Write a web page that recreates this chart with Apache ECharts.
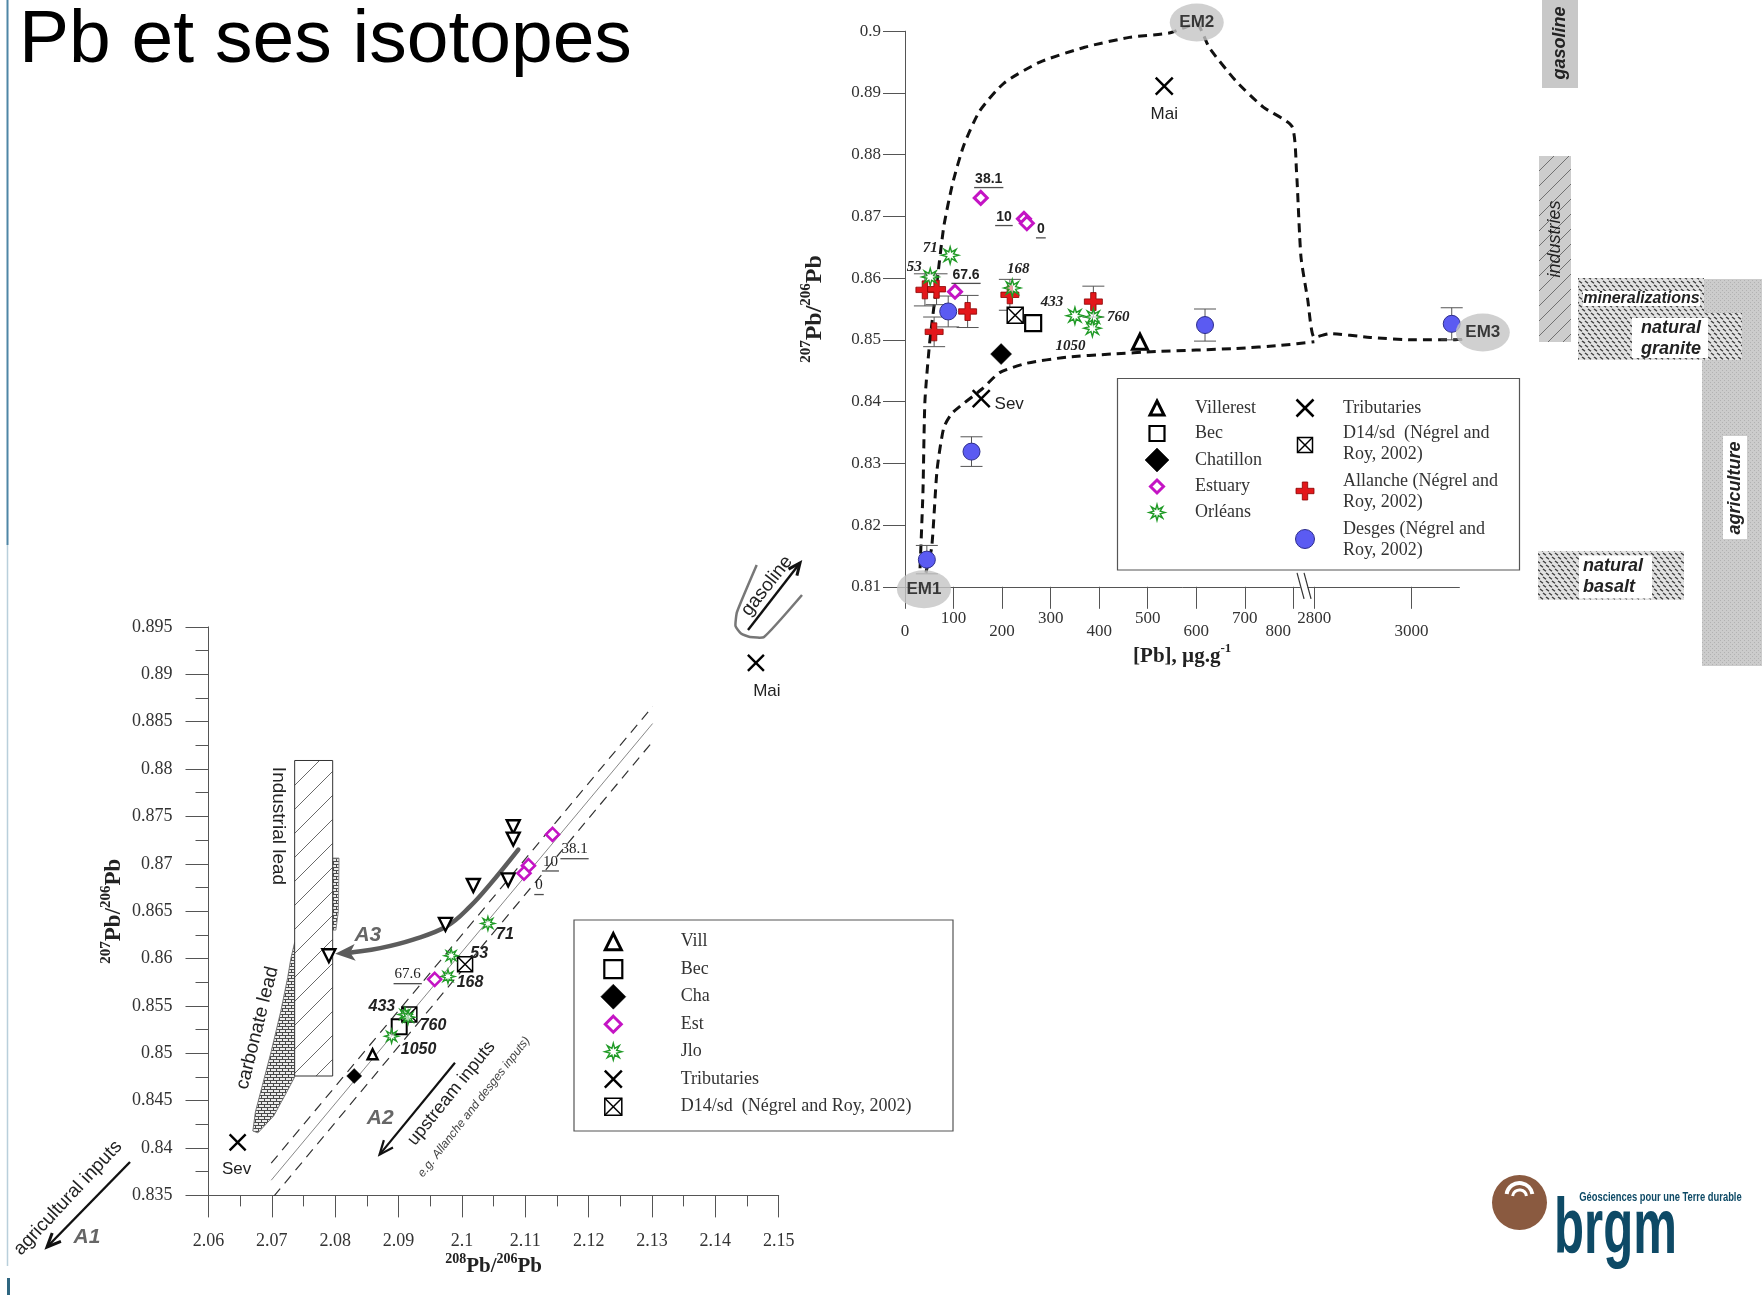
<!DOCTYPE html>
<html>
<head>
<meta charset="utf-8">
<title>Pb et ses isotopes</title>
<script src="https://cdn.jsdelivr.net/npm/echarts@6/dist/echarts.min.js"></script>
<style>
  html, body { margin: 0; padding: 0; background: #fff; }
  #chart { width: 1762px; height: 1295px; }
</style>
</head>
<body>
<div id="chart"></div>
<script>
// ================= Panel 1 : [Pb] (µg/g) vs 207Pb/206Pb =================
const pbTickValues = [0, 100, 200, 300, 400, 500, 600, 700, 800, 2800, 3000];
const pbTickLabelsUpper = [100, 300, 500, 700, 2800];
const pbTickLabelsLower = [0, 200, 400, 600, 800, 3000];

const villerest = [[484, 0.8497]];
const bec = [[264, 0.8527]];
const chatillon = [[198, 0.8477]];
const estuary = [[156, 0.8730, '38.1'], [245, 0.8696, '10'], [251, 0.8689, '0'], [103, 0.8578, '67.6']];
const orleans = [[93, 0.8637, '71'], [52, 0.8602, '53'], [221, 0.8584, '168'], [350, 0.8539, '433'], [388, 0.8537, '760'], [386, 0.8519, '1050']];
const tributaries = [[534, 0.8911, 'Mai'], [157, 0.8405, 'Sev']];
const d14sd = [[227, 0.8540]];
const allanche = [[41, 0.8581], [65, 0.8582], [60, 0.8513], [129, 0.8546], [216, 0.8573], [388, 0.8562]];
const allancheErr = [0.0026, 0.0025, 0.0024, 0.0026, 0.0025, 0.0025];
const desges = [[45, 0.8144], [89, 0.8546], [137, 0.8319], [618, 0.8524], [3083, 0.8526]];
const desgesErr = [0.0023, 0.0025, 0.0024, 0.0026, 0.0026];
const endMembers = [[39, 0.8096, 'EM1'], [601, 0.9014, 'EM2'], [3147, 0.8512, 'EM3']];

// mixing envelope EM1 - EM2 - EM3 and EM1 - EM3
const envelopeOuter = [
  [31, 0.8130], [37, 0.8254], [41, 0.8400], [51, 0.8497], [66, 0.8594], [80, 0.8684], [98, 0.8753],
  [121, 0.8815], [154, 0.8871], [204, 0.8916], [278, 0.8950], [370, 0.8974], [462, 0.8990],
  [544, 0.8997], [600, 0.9012], [627, 0.8973], [682, 0.8919], [738, 0.8877], [797, 0.8846],
  [1096, 0.8774], [1522, 0.8635], [2161, 0.8566], [2800, 0.8504], [2832, 0.8510], [2915, 0.8504],
  [3007, 0.8500], [3090, 0.8500], [3147, 0.8505]
];
const envelopeInner = [
  [43, 0.8123], [55, 0.8164], [66, 0.8289], [80, 0.8358], [98, 0.8382], [158, 0.8420], [195, 0.8447],
  [250, 0.8462], [333, 0.8472], [425, 0.8477], [517, 0.8481], [682, 0.8486], [774, 0.8491], [2800, 0.8497]
];

// ================= Panel 2 : 208Pb/206Pb vs 207Pb/206Pb =================
const vill2 = [[2.0859, 0.8499]];
const villInverted2 = [[2.1081, 0.8739], [2.1081, 0.8726], [2.1018, 0.8677], [2.1073, 0.8683], [2.0974, 0.8636], [2.0790, 0.8603]];
const bec2 = [[2.0901, 0.8528]];
const cha2 = [[2.0830, 0.8476]];
const est2 = [[2.1143, 0.8731, '38.1'], [2.1105, 0.8698, '10'], [2.1098, 0.8690, '0'], [2.0957, 0.8578, '67.6']];
const jlo2 = [[2.1041, 0.8637, '71'], [2.0983, 0.8603, '53'], [2.0978, 0.8581, '168'], [2.0910, 0.8541, '433'], [2.0915, 0.8538, '760'], [2.0889, 0.8518, '1050']];
const trib2 = [[2.0646, 0.8406, 'Sev'], [2.1464, 0.8912, 'Mai']];
const d14sd2 = [[2.0917, 0.8541], [2.1005, 0.8594]];

const trendCenter = [[2.0699, 0.8366], [2.1301, 0.8848]];
const trendUpper = [[2.0699, 0.8384], [2.1301, 0.8866]];
const trendLower = [[2.0703, 0.8349], [2.1301, 0.8829]];

const industrialLead = [[2.0736, 0.8476], [2.0796, 0.8809]];
const carbonateLens = [[2.0736, 0.8617], [2.0730, 0.8600], [2.0725, 0.8580], [2.0714, 0.8544], [2.0699, 0.8502],
  [2.0685, 0.8466], [2.0674, 0.8438], [2.0670, 0.8418], [2.0678, 0.8416], [2.0703, 0.8434], [2.0725, 0.8461], [2.0736, 0.8475]];
const carbonateStrip = [[2.0796, 0.8706], [2.0806, 0.8706], [2.0805, 0.8650], [2.0801, 0.8630], [2.0796, 0.8630]];

const arrowA3 = [[2.1089, 0.8715], [2.1044, 0.8678], [2.1013, 0.8655], [2.0976, 0.8634], [2.0923, 0.8620], [2.0871, 0.8611], [2.0823, 0.8606], [2.0800, 0.8605]];
const arrowA2 = [[2.0989, 0.8490], [2.0870, 0.8393]];

// ================= broken [Pb] axis =================
const BREAK_FROM = 800, BREAK_TO = 2800, BREAK_SPAN = 43.2;
function toAxis(x) {
  if (x <= BREAK_FROM) return x;
  if (x >= BREAK_TO) return x - BREAK_TO + BREAK_FROM + BREAK_SPAN;
  return BREAK_FROM + (x - BREAK_FROM) / (BREAK_TO - BREAK_FROM) * BREAK_SPAN;
}
function fromAxis(v) {
  if (v <= BREAK_FROM + 1e-9) return v;
  if (v >= BREAK_FROM + BREAK_SPAN - 1e-9) return v + BREAK_TO - BREAK_FROM - BREAK_SPAN;
  return BREAK_FROM + (v - BREAK_FROM) / BREAK_SPAN * (BREAK_TO - BREAK_FROM);
}

// ================= symbols =================
function starPathData(n, rOut, rIn) {
  const parts = [];
  for (let i = 0; i < n * 2; i++) {
    const a = Math.PI * i / n - Math.PI / 2;
    const r = i % 2 ? rIn : rOut;
    parts.push((i ? 'L' : 'M') + (10 + r * Math.cos(a)).toFixed(2) + ',' + (10 + r * Math.sin(a)).toFixed(2));
  }
  return parts.join('') + 'Z';
}
const SYMBOLS = {
  vill:     { path: 'M10,1L19,18L1,18Z', fill: '#fff', stroke: '#000', lw: 3 },
  villInv:  { path: 'M1,2L19,2L10,19Z', fill: '#fff', stroke: '#000', lw: 2.4 },
  bec:      { path: 'M1,1L19,1L19,19L1,19Z', fill: '#fff', stroke: '#000', lw: 2.2 },
  cha:      { path: 'M10,0L20,10L10,20L0,10Z', fill: '#000', stroke: '#000', lw: 0.5 },
  est:      { path: 'M10,0L20,10L10,20L0,10Z', fill: '#fff', stroke: '#c414c4', lw: 3 },
  jlo:      { path: starPathData(8, 10, 4.3), fill: 'rgba(255,255,255,0.6)', stroke: '#1f9a25', lw: 1.4 },
  trib:     { path: 'M2,2L18,18M18,2L2,18', fill: 'rgba(0,0,0,0)', stroke: '#000', lw: 2.5 },
  d14:      { path: 'M1,1L19,1L19,19L1,19ZM1,1L19,19M19,1L1,19', fill: '#fff', stroke: '#000', lw: 1.5 },
  allanche: { path: 'M7,0L13,0L13,7L20,7L20,13L13,13L13,20L7,20L7,13L0,13L0,7L7,7Z', fill: '#e3171b', stroke: '#8a0000', lw: 0.8 },
  desges:   { path: 'M0,10A10,10,0,1,0,20,10A10,10,0,1,0,0,10Z', fill: '#5b5bf2', stroke: '#2d2d8c', lw: 1, round: true }
};
function symbolStyle(kind, lw) {
  const s = SYMBOLS[kind];
  return { color: s.fill, borderColor: s.stroke, borderWidth: lw != null ? lw : s.lw, opacity: 1 };
}
// legend glyphs: the same outlines, built from polygons / polylines
function parseSimplePath(d) {
  const subs = [];
  let cur = null;
  d.replace(/([MLZ])([^MLZ]*)/g, (m, cmd, args) => {
    if (cmd === 'Z') { if (cur) cur.closed = true; return m; }
    const n = args.split(',').map(Number);
    if (cmd === 'M') { cur = { pts: [], closed: false }; subs.push(cur); }
    cur.pts.push([n[0], n[1]]);
    return m;
  });
  return subs;
}
function symbolGfx(kind, cx, cy, size, lw) {
  const s = SYMBOLS[kind];
  const w = lw != null ? lw : s.lw;
  if (s.round) {
    return { type: 'circle', z: 30, shape: { cx: cx, cy: cy, r: size / 2 }, style: { fill: s.fill, stroke: s.stroke, lineWidth: w } };
  }
  const subs = parseSimplePath(s.path);
  let x0 = Infinity, y0 = Infinity, x1 = -Infinity, y1 = -Infinity;
  subs.forEach(sp => sp.pts.forEach(p => { x0 = Math.min(x0, p[0]); x1 = Math.max(x1, p[0]); y0 = Math.min(y0, p[1]); y1 = Math.max(y1, p[1]); }));
  const map = p => [cx - size / 2 + (p[0] - x0) / (x1 - x0) * size, cy - size / 2 + (p[1] - y0) / (y1 - y0) * size];
  return {
    type: 'group', z: 30,
    children: subs.map(sp => sp.closed
      ? { type: 'polygon', z: 30, shape: { points: sp.pts.map(map) }, style: { fill: s.fill, stroke: s.stroke, lineWidth: w } }
      : { type: 'polyline', z: 31, shape: { points: sp.pts.map(map) }, style: { fill: null, stroke: s.stroke, lineWidth: w } })
  };
}

// ================= fill patterns =================
function tile(w, h, paint) {
  const c = document.createElement('canvas');
  c.width = w; c.height = h;
  paint(c.getContext('2d'), w, h);
  return c;
}
function diagonal(bg, fg, size, lw) {
  return tile(size, size, (g, w, h) => {
    g.fillStyle = bg; g.fillRect(0, 0, w, h);
    g.strokeStyle = fg; g.lineWidth = lw; g.beginPath();
    for (const o of [-w, 0, w]) { g.moveTo(o, h); g.lineTo(o + w, 0); }
    g.stroke();
  });
}
const hatchLead = diagonal('#ffffff', '#6a6a6a', 24, 1);
const hatchIndustry = diagonal('#cdcdcd', '#707070', 15, 1);
const brick = tile(6, 6, (g, w, h) => {
  g.fillStyle = '#ececec'; g.fillRect(0, 0, w, h);
  g.fillStyle = '#4a4a4a';
  g.fillRect(0, 0, w, 1); g.fillRect(0, 3, w, 1);
  g.fillRect(0, 1, 1, 2); g.fillRect(3, 4, 1, 2);
});
const rockDashes = tile(12, 8, (g, w, h) => {
  g.fillStyle = '#e2e2e2'; g.fillRect(0, 0, w, h);
  g.strokeStyle = '#3c3c3c'; g.lineWidth = 1.4; g.beginPath();
  g.moveTo(1, 1); g.lineTo(4, 3.2); g.moveTo(7, 1); g.lineTo(10, 3.2);
  g.moveTo(4, 5); g.lineTo(7, 7.2); g.moveTo(10, 5); g.lineTo(13, 7.2); g.moveTo(-2, 5); g.lineTo(1, 7.2);
  g.stroke();
});
const dotted = tile(4, 4, (g, w, h) => {
  g.fillStyle = '#cccccc'; g.fillRect(0, 0, w, h);
  g.fillStyle = '#b2b2b2'; g.fillRect(0, 0, 1, 1); g.fillRect(2, 2, 1, 1);
});
function pattern(img) { return { image: img, repeat: 'repeat' }; }

// ================= label helpers =================
const measureCtx = document.createElement('canvas').getContext('2d');
function textWidth(text, font) { measureCtx.font = font; return measureCtx.measureText(text).width; }

function labelled(points, mapX, offsets, style) {
  return points.map(p => ({
    value: [mapX(p[0]), p[1]],
    label: Object.assign({ show: true, position: 'inside', formatter: p[2], offset: offsets[p[2]] }, style)
  }));
}
function underlines(points, mapX, offsets, style) {
  const font = (style.fontStyle || 'normal') + ' ' + (style.fontWeight || 'normal') + ' ' + style.fontSize + 'px "' + style.fontFamily + '"';
  return points.map(p => {
    const off = offsets[p[2]];
    return {
      value: [mapX(p[0]), p[1]],
      symbolSize: [textWidth(p[2], font) + 2, 1.3],
      symbolOffset: [off[0], off[1] + style.fontSize * 0.62]
    };
  });
}
const ident = v => v;

// label offsets (px) from each point
const offsTop = { '71': [-20, -7], '53': [-16, -10], '168': [6, -19], '433': [-23, -14], '760': [25, 0], '1050': [-22, 18],
  '38.1': [8, -19], '10': [-20, -2], '0': [14, 6], '67.6': [11, -17], 'Mai': [0, 28], 'Sev': [28, 6] };
const offsBottom = { '71': [17, 11], '53': [28, -2], '168': [22, 6], '433': [-23, -8], '760': [25, 8], '1050': [27, 13],
  '38.1': [22, 15], '10': [22, -4], '0': [15, 12], '67.6': [-27, -5], 'Sev': [-1, 27], 'Mai': [11, 28] };

const lblTopItalic = { fontFamily: 'Liberation Serif', fontStyle: 'italic', fontWeight: 'bold', fontSize: 15, color: '#222' };
const lblTopUnder = { fontFamily: 'Liberation Sans', fontWeight: 'bold', fontSize: 14, color: '#222' };
const lblBotItalic = { fontFamily: 'Liberation Sans', fontStyle: 'italic', fontWeight: 'bold', fontSize: 16, color: '#222' };
const lblBotUnder = { fontFamily: 'Liberation Serif', fontSize: 15, color: '#222' };
const lblSite = { fontFamily: 'Liberation Sans', fontSize: 17, color: '#222' };

// ================= custom renderers =================
function errorBars(params, api) {
  const x = api.value(0), y = api.value(1), e = api.value(2);
  const t = api.coord([x, y + e]), b = api.coord([x, y - e]);
  const w = 11, st = { stroke: '#555', lineWidth: 1 };
  return { type: 'group', children: [
    { type: 'line', shape: { x1: t[0], y1: t[1], x2: b[0], y2: b[1] }, style: st },
    { type: 'line', shape: { x1: t[0] - w, y1: t[1], x2: t[0] + w, y2: t[1] }, style: st },
    { type: 'line', shape: { x1: b[0] - w, y1: b[1], x2: b[0] + w, y2: b[1] }, style: st }
  ] };
}
function polygonRenderer(points, fill, stroke) {
  return function (params, api) {
    return { type: 'polygon', shape: { points: points.map(p => api.coord(p)) },
      style: { fill: fill, stroke: stroke || null, lineWidth: 1 } };
  };
}
function rectRenderer(extent, fill, stroke) {
  return function (params, api) {
    const a = api.coord([extent[0][0], extent[1][1]]), b = api.coord([extent[1][0], extent[0][1]]);
    return { type: 'rect', shape: { x: a[0], y: a[1], width: b[0] - a[0], height: b[1] - a[1] },
      style: { fill: fill, stroke: stroke, lineWidth: 1 } };
  };
}
function arrowRenderer(points, color, width, head, filled, smooth) {
  return function (params, api) {
    const pts = points.map(p => api.coord(p));
    const n = pts.length, a = pts[n - 2], b = pts[n - 1];
    const ang = Math.atan2(b[1] - a[1], b[0] - a[0]);
    const cos = Math.cos(ang), sin = Math.sin(ang);
    const hw = head * 0.42;
    const back = [b[0] - head * cos, b[1] - head * sin];
    const left = [back[0] + hw * sin, back[1] - hw * cos];
    const right = [back[0] - hw * sin, back[1] + hw * cos];
    const children = [];
    if (filled) {
      const stop = [b[0] - head * 0.7 * cos, b[1] - head * 0.7 * sin];
      children.push({ type: 'polyline', shape: { points: pts.slice(0, n - 1).concat([stop]), smooth: smooth || 0 },
        style: { stroke: color, lineWidth: width, fill: null, lineCap: 'round' } });
      const notch = [b[0] - head * 0.75 * cos, b[1] - head * 0.75 * sin];
      children.push({ type: 'polygon', shape: { points: [b, left, notch, right] }, style: { fill: color } });
    } else {
      children.push({ type: 'polyline', shape: { points: pts, smooth: smooth || 0 }, style: { stroke: color, lineWidth: width, fill: null } });
      children.push({ type: 'polyline', shape: { points: [left, b, right] }, style: { stroke: color, lineWidth: width, fill: null } });
    }
    return { type: 'group', children: children };
  };
}
function breakMark(params, api) {
  const c = api.coord([api.value(0), api.value(1)]);
  const st = { stroke: '#333', lineWidth: 1.2 };
  return { type: 'group', children: [
    { type: 'rect', shape: { x: c[0] - 3.5, y: c[1] - 2, width: 7, height: 4 }, style: { fill: '#fff' } },
    { type: 'line', shape: { x1: c[0] - 7, y1: c[1] - 14, x2: c[0], y2: c[1] + 12 }, style: st },
    { type: 'line', shape: { x1: c[0], y1: c[1] - 14, x2: c[0] + 7, y2: c[1] + 12 }, style: st }
  ] };
}

// ================= scatter series builders =================
function scatter(name, kind, data, xi, yi, size, lw, extra) {
  return Object.assign({
    name: name, type: 'scatter', xAxisIndex: xi, yAxisIndex: yi,
    symbol: 'path://' + SYMBOLS[kind].path, symbolSize: size,
    itemStyle: symbolStyle(kind, lw), z: 5, clip: false,
    emphasis: { disabled: true }, data: data
  }, extra || {});
}
const xy = (mapX) => (p) => [mapX(p[0]), p[1]];

// ================= axis styles =================
const axisLineStyle = { color: '#555', width: 1 };
const tickFont = { fontFamily: 'Liberation Serif', fontSize: 17, color: '#333' };
function supName(size, supSize) {
  return {
    rich: {
      b: { fontFamily: 'Liberation Serif', fontWeight: 'bold', fontSize: size, lineHeight: size + 4, verticalAlign: 'bottom', color: '#222' },
      s: { fontFamily: 'Liberation Serif', fontWeight: 'bold', fontSize: supSize, lineHeight: supSize, verticalAlign: 'top', color: '#222' }
    }
  };
}
const fmtPb = v => String(Math.round(fromAxis(v)));
// the last label before the break is nudged left so it clears "2800"
const fmtPbLower = v => {
  const r = Math.round(fromAxis(v));
  return r === BREAK_FROM ? '{nudge|' + r + '}' : String(r);
};

const series = [
  // ---------- panel 1 ----------
  { name: 'EM1-EM2-EM3', type: 'line', xAxisIndex: 0, yAxisIndex: 0, data: envelopeOuter.map(xy(toAxis)),
    symbol: 'none', smooth: 0.2, clip: false, z: 2, lineStyle: { color: '#111', width: 3, type: [9, 6] } },
  { name: 'EM1-EM3', type: 'line', xAxisIndex: 0, yAxisIndex: 0, data: envelopeInner.map(xy(toAxis)),
    symbol: 'none', smooth: 0.2, clip: false, z: 2, lineStyle: { color: '#111', width: 3, type: [9, 6] } },
  { name: 'Allanche error', type: 'custom', xAxisIndex: 0, yAxisIndex: 0, renderItem: errorBars, z: 3,
    data: allanche.map((p, i) => [toAxis(p[0]), p[1], allancheErr[i]]) },
  { name: 'Desges error', type: 'custom', xAxisIndex: 0, yAxisIndex: 0, renderItem: errorBars, z: 3,
    data: desges.map((p, i) => [toAxis(p[0]), p[1], desgesErr[i]]) },
  scatter('Desges', 'desges', desges.map(xy(toAxis)), 0, 0, 17),
  scatter('Allanche', 'allanche', allanche.map(xy(toAxis)), 0, 0, 18),
  scatter('Bec', 'bec', bec.map(xy(toAxis)), 0, 0, 16),
  scatter('D14/sd', 'd14', d14sd.map(xy(toAxis)), 0, 0, 16),
  scatter('Chatillon', 'cha', chatillon.map(xy(toAxis)), 0, 0, 21),
  scatter('Villerest', 'vill', villerest.map(xy(toAxis)), 0, 0, 15),
  scatter('Orléans', 'jlo', labelled(orleans, toAxis, offsTop, lblTopItalic), 0, 0, 17),
  scatter('Estuary', 'est', labelled(estuary, toAxis, offsTop, lblTopUnder), 0, 0, 13),
  { name: 'Estuary underline', type: 'scatter', xAxisIndex: 0, yAxisIndex: 0, symbol: 'rect', z: 6,
    itemStyle: { color: '#222' }, emphasis: { disabled: true },
    data: underlines(estuary, toAxis, offsTop, lblTopUnder) },
  scatter('Tributaries', 'trib', labelled(tributaries, toAxis, offsTop, lblSite), 0, 0, 17),
  { name: 'End-members', type: 'scatter', xAxisIndex: 0, yAxisIndex: 0, symbol: 'circle', symbolSize: [54, 38], z: 8, clip: false,
    itemStyle: { color: '#c4c4c4' }, emphasis: { disabled: true },
    label: { show: true, position: 'inside', formatter: p => p.data[2], fontFamily: 'Liberation Sans', fontWeight: 'bold', fontSize: 17, color: '#111' },
    data: endMembers.map(p => [toAxis(p[0]), p[1], p[2]]) },
  { name: 'axis break', type: 'custom', xAxisIndex: 0, yAxisIndex: 0, renderItem: breakMark, z: 9, clip: false,
    data: [[(toAxis(BREAK_FROM) + toAxis(BREAK_TO)) / 2 + 0.4, 0.81]] },

  // ---------- panel 2 ----------
  { name: 'carbonate lead', type: 'custom', xAxisIndex: 2, yAxisIndex: 1, z: 1,
    renderItem: polygonRenderer(carbonateLens, pattern(brick), '#777'), data: [carbonateLens[0]] },
  { name: 'carbonate lead strip', type: 'custom', xAxisIndex: 2, yAxisIndex: 1, z: 1,
    renderItem: polygonRenderer(carbonateStrip, pattern(brick), '#888'), data: [carbonateStrip[0]] },
  { name: 'Industrial lead', type: 'custom', xAxisIndex: 2, yAxisIndex: 1, z: 1,
    renderItem: rectRenderer(industrialLead, pattern(hatchLead), '#333'), data: [industrialLead[0]] },
  { name: 'trend', type: 'line', xAxisIndex: 2, yAxisIndex: 1, data: trendCenter, symbol: 'none', z: 2,
    lineStyle: { color: '#888', width: 1 } },
  { name: 'trend upper', type: 'line', xAxisIndex: 2, yAxisIndex: 1, data: trendUpper, symbol: 'none', z: 2,
    lineStyle: { color: '#333', width: 1.2, type: [10, 7] } },
  { name: 'trend lower', type: 'line', xAxisIndex: 2, yAxisIndex: 1, data: trendLower, symbol: 'none', z: 2,
    lineStyle: { color: '#333', width: 1.2, type: [10, 7] } },
  { name: 'A3', type: 'custom', xAxisIndex: 2, yAxisIndex: 1, z: 4,
    renderItem: arrowRenderer(arrowA3, '#5c5c5c', 4.5, 20, true, 0.4), data: [arrowA3[0]] },
  { name: 'A2', type: 'custom', xAxisIndex: 2, yAxisIndex: 1, z: 4,
    renderItem: arrowRenderer(arrowA2, '#111', 2.2, 14, false, 0), data: [arrowA2[0]] },
  scatter('Vill (A3)', 'villInv', villInverted2, 2, 1, 13),
  scatter('Vill', 'vill', vill2, 2, 1, 10, 2.4),
  scatter('Cha', 'cha', cha2, 2, 1, 15),
  scatter('Bec', 'bec', bec2, 2, 1, 15, 2),
  scatter('D14/sd', 'd14', d14sd2, 2, 1, 15),
  scatter('Jlo', 'jlo', labelled(jlo2, ident, offsBottom, lblBotItalic), 2, 1, 14, 1.3),
  scatter('Est', 'est', labelled(est2, ident, offsBottom, lblBotUnder), 2, 1, 13, 2.6),
  { name: 'Est underline', type: 'scatter', xAxisIndex: 2, yAxisIndex: 1, symbol: 'rect', z: 6,
    itemStyle: { color: '#222' }, emphasis: { disabled: true },
    data: underlines(est2, ident, offsBottom, lblBotUnder) },
  scatter('Tributaries', 'trib', labelled(trib2, ident, offsBottom, lblSite), 2, 1, 16, 2.4)
];

// ================= slide decorations, legends, annotations =================
function txt(text, x, y, o) {
  o = o || {};
  return {
    type: 'text', x: x, y: y, rotation: (o.rot || 0) * Math.PI / 180, scaleX: o.scaleX || 1, z: 40,
    style: {
      text: text, fill: o.color || '#222', fontFamily: o.family || 'Liberation Sans',
      fontSize: o.size || 16, fontWeight: o.weight || 'normal', fontStyle: o.style || 'normal',
      align: o.align || 'center', verticalAlign: o.valign || 'middle'
    }
  };
}
function arrowGfx(x1, y1, x2, y2, color, lw, head) {
  const a = Math.atan2(y2 - y1, x2 - x1);
  const h1 = [x2 - head * Math.cos(a - 0.42), y2 - head * Math.sin(a - 0.42)];
  const h2 = [x2 - head * Math.cos(a + 0.42), y2 - head * Math.sin(a + 0.42)];
  return [
    { type: 'line', z: 40, shape: { x1: x1, y1: y1, x2: x2, y2: y2 }, style: { stroke: color, lineWidth: lw } },
    { type: 'polyline', z: 40, shape: { points: [h1, [x2, y2], h2] }, style: { stroke: color, lineWidth: lw + 0.6, fill: null } }
  ];
}

const legendFont = { family: 'Liberation Serif', size: 18, color: '#333', align: 'left' };
const legendTopLeft = [['vill', 'Villerest', 14], ['bec', 'Bec', 15], ['cha', 'Chatillon', 24], ['est', 'Estuary', 13], ['jlo', 'Orléans', 16]];
const legendTopRight = [['trib', ['Tributaries'], 17], ['d14', ['D14/sd  (Négrel and', 'Roy, 2002)'], 15],
  ['allanche', ['Allanche (Négrel and', 'Roy, 2002)'], 18], ['desges', ['Desges (Négrel and', 'Roy, 2002)'], 19]];
const legendBottom = [['vill', 'Vill', 16], ['bec', 'Bec', 18], ['cha', 'Cha', 25], ['est', 'Est', 16],
  ['jlo', 'Jlo', 17], ['trib', 'Tributaries', 17], ['d14', 'D14/sd  (Négrel and Roy, 2002)', 17]];

const graphics = [];
// slide title and side rule
graphics.push(txt('Pb et ses isotopes', 19, 41, { size: 75, align: 'left', color: '#000' }));
graphics.push({ type: 'line', z: 40, shape: { x1: 7.5, y1: 0, x2: 7.5, y2: 545 }, style: { stroke: '#4f86a6', lineWidth: 2 } });
graphics.push({ type: 'line', z: 40, shape: { x1: 7.5, y1: 545, x2: 7.5, y2: 1266 }, style: { stroke: '#b9cfdb', lineWidth: 1.5 } });
graphics.push({ type: 'line', z: 40, shape: { x1: 8.5, y1: 1278, x2: 8.5, y2: 1295 }, style: { stroke: '#2f6680', lineWidth: 3 } });

// top legend
graphics.push({ type: 'rect', z: 29, shape: { x: 1117.5, y: 378.5, width: 402, height: 191.5 }, style: { fill: '#fff', stroke: '#555', lineWidth: 1.2 } });
const topLeftRows = [408, 433.5, 460, 486.5, 512.5];
legendTopLeft.forEach((it, i) => {
  graphics.push(symbolGfx(it[0], 1157, topLeftRows[i], it[2]));
  graphics.push(txt(it[1], 1195, topLeftRows[i], legendFont));
});
const topRightSym = [408, 445, 491, 539];
const topRightLines = [[408], [433.5, 454.5], [481, 502], [529, 550]];
legendTopRight.forEach((it, i) => {
  graphics.push(symbolGfx(it[0], 1305, topRightSym[i], it[2]));
  it[1].forEach((line, j) => graphics.push(txt(line, 1343, topRightLines[i][j], legendFont)));
});

// bottom legend
graphics.push({ type: 'rect', z: 29, shape: { x: 574, y: 920, width: 379, height: 211 }, style: { fill: '#fff', stroke: '#555', lineWidth: 1.2 } });
legendBottom.forEach((it, i) => {
  const y = 941.7 + i * 27.5;
  graphics.push(symbolGfx(it[0], 613.3, y, it[2]));
  graphics.push(txt(it[1], 680.7, y, legendFont));
});

// source boxes beside panel 1
graphics.push({ type: 'rect', z: 20, shape: { x: 1542, y: 0, width: 36, height: 88 }, style: { fill: '#c8c8c8' } });
graphics.push(txt('gasoline', 1560, 43, { size: 18, weight: 'bold', style: 'italic', rot: 90 }));
graphics.push({ type: 'rect', z: 20, shape: { x: 1539, y: 156, width: 32, height: 186 }, style: { fill: pattern(hatchIndustry) } });
graphics.push(txt('industries', 1555, 239, { size: 18, style: 'italic', rot: 90 }));
graphics.push({ type: 'rect', z: 18, shape: { x: 1702, y: 279, width: 60, height: 387 }, style: { fill: pattern(dotted) } });
graphics.push({ type: 'polygon', z: 20, shape: { points: [[1578, 278], [1704, 278], [1704, 313], [1742, 313], [1742, 360], [1578, 360]] }, style: { fill: pattern(rockDashes) } });
graphics.push({ type: 'rect', z: 21, shape: { x: 1583, y: 291, width: 117, height: 15 }, style: { fill: '#fff' } });
graphics.push(txt('mineralizations', 1641.5, 298.5, { size: 16, weight: 'bold', style: 'italic' }));
graphics.push({ type: 'rect', z: 21, shape: { x: 1632, y: 318, width: 76, height: 40 }, style: { fill: '#fff' } });
graphics.push(txt('natural', 1671, 328.5, { size: 18, weight: 'bold', style: 'italic' }));
graphics.push(txt('granite', 1671, 349, { size: 18, weight: 'bold', style: 'italic' }));
graphics.push({ type: 'rect', z: 21, shape: { x: 1723, y: 436, width: 24, height: 103 }, style: { fill: '#fff' } });
graphics.push(txt('agriculture', 1735, 488, { size: 18, weight: 'bold', style: 'italic', rot: 90 }));
graphics.push({ type: 'rect', z: 20, shape: { x: 1538, y: 551, width: 146, height: 49 }, style: { fill: pattern(rockDashes) } });
graphics.push({ type: 'rect', z: 21, shape: { x: 1579, y: 555.5, width: 73, height: 43 }, style: { fill: '#fff' } });
graphics.push(txt('natural', 1583, 566, { size: 18, weight: 'bold', style: 'italic', align: 'left' }));
graphics.push(txt('basalt', 1583, 587.5, { size: 18, weight: 'bold', style: 'italic', align: 'left' }));

// panel 2 annotations
graphics.push(txt('Industrial lead', 278, 826, { size: 19, rot: -90 }));
graphics.push(txt('carbonate lead', 257.5, 1028, { size: 19, rot: 76 }));
graphics.push(txt('A3', 367.8, 934.8, { size: 21, weight: 'bold', style: 'italic', color: '#666' }));
graphics.push(txt('A2', 380.2, 1118.2, { size: 21, weight: 'bold', style: 'italic', color: '#666' }));
graphics.push(txt('upstream inputs', 451.5, 1093.3, { size: 18, rot: 51 }));
graphics.push(txt('e.g. Allanche and desges inputs)', 474, 1107, { size: 12, style: 'italic', rot: 52, color: '#444' }));
arrowGfx(130, 1162, 47, 1247, '#111', 2.4, 15).forEach(g => graphics.push(g));
graphics.push(txt('agricultural inputs', 68, 1198, { size: 19, rot: 47 }));
graphics.push(txt('A1', 87, 1237, { size: 21, weight: 'bold', style: 'italic', color: '#666' }));
graphics.push({ type: 'polyline', z: 40, shape: { points: [[756.7, 565], [737, 612], [735.5, 626], [741, 633.5], [750, 637], [764, 637], [802, 595]], smooth: 0.15 },
  style: { stroke: '#777', lineWidth: 2.5, fill: null } });
arrowGfx(748, 630, 800, 563, '#111', 2.4, 13).forEach(g => graphics.push(g));
graphics.push(txt('gasoline', 767, 586, { size: 19, rot: 52 }));

// brgm logo
graphics.push({ type: 'circle', z: 40, shape: { cx: 1519.5, cy: 1202.5, r: 27.5 }, style: { fill: '#8a5a40' } });
graphics.push({ type: 'arc', z: 41, shape: { cx: 1519.5, cy: 1196, r: 13, startAngle: Math.PI * 1.05, endAngle: Math.PI * 1.95, clockwise: true }, style: { stroke: '#fff', lineWidth: 4, fill: null } });
graphics.push({ type: 'arc', z: 41, shape: { cx: 1519.5, cy: 1197, r: 7, startAngle: Math.PI * 1.05, endAngle: Math.PI * 1.95, clockwise: true }, style: { stroke: '#fff', lineWidth: 3, fill: null } });
graphics.push(txt('brgm', 1554, 1231, { size: 78, weight: 'bold', color: '#0e4a66', align: 'left', scaleX: 0.63 }));
graphics.push(txt('Géosciences pour une Terre durable', 1579.3, 1198, { size: 12.5, weight: 'bold', color: '#0e4a66', align: 'left', scaleX: 0.75 }));

// ================= option =================
const option = {
  animation: false,
  backgroundColor: '#fff',
  textStyle: { fontFamily: 'Liberation Serif' },
  grid: [
    { left: 905, top: 31.2, width: 554.4, height: 555.6, outerBoundsMode: 'none' },
    { left: 208.5, top: 626.9, width: 570.2, height: 568.5, outerBoundsMode: 'none' }
  ],
  xAxis: [
    { gridIndex: 0, type: 'value', min: 0, max: 1142, position: 'bottom',
      axisLine: { show: true, onZero: false, lineStyle: axisLineStyle },
      axisTick: { show: true, length: 22, customValues: pbTickValues.map(toAxis), lineStyle: axisLineStyle },
      axisLabel: Object.assign({ customValues: pbTickLabelsUpper.map(toAxis), margin: 23, formatter: fmtPb }, tickFont),
      splitLine: { show: false },
      name: '{b|[Pb], µg.g}{s|-1}', nameLocation: 'middle', nameGap: 55,
      nameTextStyle: supName(21, 13) },
    { gridIndex: 0, type: 'value', min: 0, max: 1142, position: 'bottom',
      axisLine: { show: false }, axisTick: { show: false },
      axisLabel: Object.assign({ customValues: pbTickLabelsLower.map(toAxis), margin: 36, formatter: fmtPbLower,
        rich: { nudge: { fontFamily: 'Liberation Serif', fontSize: 17, color: '#333', padding: [0, 30, 0, 0] } } }, tickFont),
      splitLine: { show: false } },
    { gridIndex: 1, type: 'value', min: 2.06, max: 2.15, interval: 0.01,
      axisLine: { show: true, onZero: false, lineStyle: axisLineStyle },
      axisTick: { show: true, length: 22, lineStyle: axisLineStyle },
      minorTick: { show: true, splitNumber: 2, length: 11, lineStyle: axisLineStyle },
      axisLabel: Object.assign({}, tickFont, { fontSize: 18, margin: 37 }),
      splitLine: { show: false },
      name: '{s|208}{b|Pb/}{s|206}{b|Pb}', nameLocation: 'middle', nameGap: 57,
      nameTextStyle: supName(21, 14) }
  ],
  yAxis: [
    { gridIndex: 0, type: 'value', min: 0.81, max: 0.9, interval: 0.01,
      axisLine: { show: true, onZero: false, lineStyle: axisLineStyle },
      axisTick: { show: true, length: 22, lineStyle: axisLineStyle },
      axisLabel: Object.assign({ margin: 24 }, tickFont),
      splitLine: { show: false },
      name: '{s|207}{b|Pb/}{s|206}{b|Pb}', nameLocation: 'middle', nameRotate: 90, nameGap: 78,
      nameTextStyle: supName(24, 15) },
    { gridIndex: 1, type: 'value', min: 0.835, max: 0.895, interval: 0.005,
      axisLine: { show: true, onZero: false, lineStyle: axisLineStyle },
      axisTick: { show: true, length: 23, lineStyle: axisLineStyle },
      minorTick: { show: true, splitNumber: 2, length: 13, lineStyle: axisLineStyle },
      axisLabel: Object.assign({}, tickFont, { fontSize: 18, margin: 36 }),
      splitLine: { show: false },
      name: '{s|207}{b|Pb/}{s|206}{b|Pb}', nameLocation: 'middle', nameRotate: 90, nameGap: 83,
      nameTextStyle: supName(23, 15) }
  ],
  series: series,
  graphic: { elements: graphics }
};

const chart = echarts.init(document.getElementById('chart'), null, { renderer: 'canvas' });
chart.setOption(option);
</script>
</body>
</html>
